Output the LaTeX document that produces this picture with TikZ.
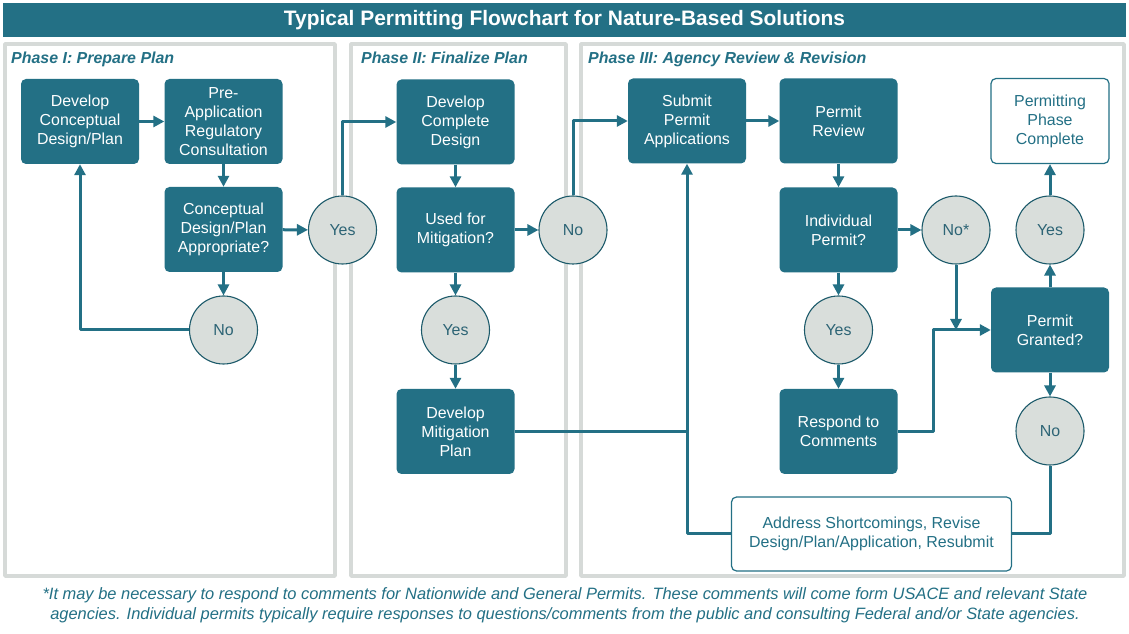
\documentclass[tikz,border=0pt]{standalone}
\usepackage{fontspec}
\setmainfont{Liberation Sans}
\usetikzlibrary{arrows.meta}
\definecolor{permteal}{RGB}{35,112,133}
\definecolor{circfill}{RGB}{217,222,219}
\definecolor{panelgray}{RGB}{214,218,216}
\definecolor{circtext}{RGB}{45,100,117}
\begin{document}
\begin{tikzpicture}[>={Triangle[length=11bp,width=11bp]},line join=bevel,
  stepbox/.style={fill=permteal,draw=none,rounded corners=5bp,minimum width=118bp,minimum height=85bp,inner sep=0pt,text=white,align=center,font=\fontsize{16}{19}\selectfont},
  endbox/.style={stepbox,fill=white,draw=permteal,line width=1.2bp,text=permteal},
  answer/.style={circle,fill=circfill,draw=permteal!80!black,line width=1.1bp,minimum size=68bp,inner sep=0pt,text=circtext,font=\fontsize{16}{19}\selectfont},
  flowlink/.style={permteal,line width=3bp},
  panelframe/.style={draw=panelgray,line width=3.5bp},
  phaselabel/.style={anchor=base west,inner sep=0pt,text=permteal,font=\fontsize{16}{19}\selectfont\bfseries\itshape},
  notelabel/.style={text=permteal,font=\fontsize{16.5}{20}\selectfont\itshape}]
%%
\useasboundingbox [fill=white] (0bp,0bp) rectangle (1129bp,634bp);
\node (title) at (564.5bp,614bp) [fill=permteal,minimum width=1123bp,minimum height=34bp,text=white,font=\fontsize{21}{25}\selectfont\bfseries] {Typical Permitting Flowchart for Nature-Based Solutions};
%
\draw [panelframe] (5bp,58bp) rectangle (335bp,590bp);
\draw [panelframe] (351bp,58bp) rectangle (566bp,590bp);
\draw [panelframe] (581bp,58bp) rectangle (1124bp,590bp);
\node (phase_1) at (11bp,570bp) [phaselabel] {Phase I: Prepare Plan};
\node (phase_2) at (361bp,570bp) [phaselabel] {Phase II: Finalize Plan};
\node (phase_3) at (588bp,570bp) [phaselabel] {Phase III: Agency Review \& Revision};
%
\node (design) at (80bp,512.5bp) [stepbox] {Develop\\Conceptual\\Design/Plan};
\node (preapp) at (223.5bp,512.5bp) [stepbox] {Pre-\\Application\\Regulatory\\Consultation};
\node (appropriate) at (223.5bp,404.5bp) [stepbox] {Conceptual\\Design/Plan\\Appropriate?};
\node (yes_1) at (342.5bp,404bp) [answer] {Yes};
\node (no_1) at (223.5bp,304bp) [answer] {No};
%
\node (complete) at (455.5bp,512bp) [stepbox] {Develop\\Complete\\Design};
\node (mitigation) at (455.5bp,404bp) [stepbox] {Used for\\Mitigation?};
\node (no_2) at (573bp,404bp) [answer] {No};
\node (yes_2) at (455.5bp,304bp) [answer] {Yes};
\node (mitplan) at (455.5bp,202.5bp) [stepbox] {Develop\\Mitigation\\Plan};
%
\node (submit) at (687bp,513bp) [stepbox] {Submit\\Permit\\Applications};
\node (review) at (838.5bp,513bp) [stepbox] {Permit\\Review};
\node (done) at (1050bp,513bp) [endbox] {Permitting\\Phase\\Complete};
\node (individual) at (838.5bp,404bp) [stepbox] {Individual\\Permit?};
\node (no_3) at (956bp,404bp) [answer] {No*};
\node (yes_4) at (1050bp,404bp) [answer] {Yes};
\node (yes_3) at (838.5bp,304bp) [answer] {Yes};
\node (granted) at (1050bp,304bp) [stepbox] {Permit\\Granted?};
\node (respond) at (838.5bp,202.5bp) [stepbox] {Respond to\\Comments};
\node (no_4) at (1050bp,203bp) [answer] {No};
\node (address) at (871.5bp,100bp) [endbox,minimum width=280bp,minimum height=74bp] {Address Shortcomings, Revise\\Design/Plan/Application, Resubmit};
\coordinate (merge) at (933bp,304bp);
%
\draw [flowlink,->] (design) -- (preapp);
\draw [flowlink,->] (preapp) -- (appropriate);
\draw [flowlink,->] (appropriate) -- (yes_1);
\draw [flowlink,->] (appropriate) -- (no_1);
\draw [flowlink,->] (no_1.west) -| (design.south);
\draw [flowlink,->] (yes_1.north) |- (complete.west);
\draw [flowlink,->] (complete) -- (mitigation);
\draw [flowlink,->] (mitigation) -- (no_2);
\draw [flowlink,->] (mitigation) -- (yes_2);
\draw [flowlink,->] (yes_2) -- (mitplan);
\draw [flowlink,->] (no_2.north) |- (submit.west);
\draw [flowlink] (mitplan.east) -- (mitplan.east -| submit.south);
\draw [flowlink,->] (address.west) -| (submit.south);
\draw [flowlink,->] (submit) -- (review);
\draw [flowlink,->] (review) -- (individual);
\draw [flowlink,->] (individual) -- (no_3);
\draw [flowlink,->] (individual) -- (yes_3);
\draw [flowlink,->] (yes_3) -- (respond);
\draw [flowlink,->] (no_3.south) -- (no_3.south |- merge);
\draw [flowlink,->] (respond.east) -| (merge) -- (granted.west);
\draw [flowlink,->] (granted) -- (yes_4);
\draw [flowlink,->] (yes_4) -- (done);
\draw [flowlink,->] (granted) -- (no_4);
\draw [flowlink] (no_4.south) |- (address.east);
%
\node (note_1) at (565bp,39bp) [notelabel] {*It may be necessary to respond to comments for Nationwide and General Permits. These comments will come form USACE and relevant State};
\node (note_2) at (565bp,19bp) [notelabel] {agencies. Individual permits typically require responses to questions/comments from the public and consulting Federal and/or State agencies.};
%
\end{tikzpicture}
\end{document}
